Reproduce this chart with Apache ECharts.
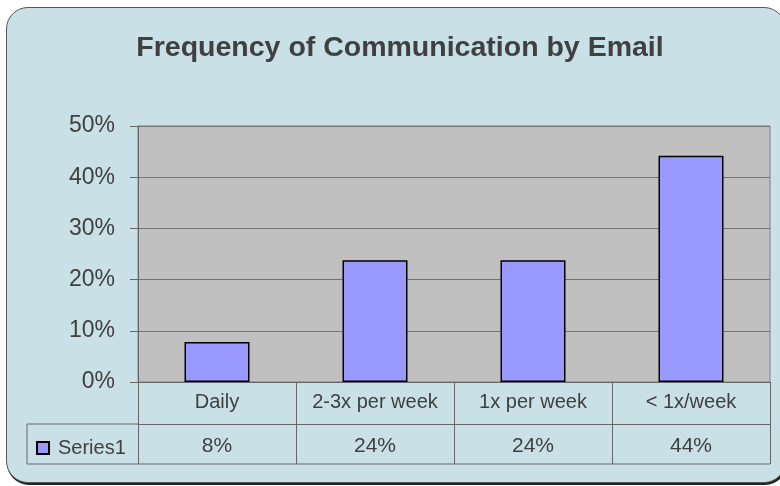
<!DOCTYPE html>
<html>
<head>
<meta charset="utf-8">
<script src="https://cdn.jsdelivr.net/npm/echarts@6/dist/echarts.min.js"></script>
<style>
  html, body { margin: 0; padding: 0; background: #fff; }
  #wrap { position: relative; width: 780px; height: 486px; overflow: hidden; }
  #panel {
    position: absolute; left: 6px; top: 7px; width: 778px; height: 474px;
    background: #C8E0E6; border: 1.5px solid #555; border-radius: 22px;
    box-shadow: 1px 2px 0 #222;
  }
  #chart { position: absolute; left: 0; top: 0; width: 780px; height: 486px; }
</style>
</head>
<body>
<div id="wrap">
  <div id="panel"></div>
  <div id="chart"></div>
</div>
<script>
// data
var categories = ['Daily', '2-3x per week', '1x per week', '< 1x/week'];
var values = [0.078, 0.238, 0.238, 0.442];
var seriesName = 'Series1';
var yTicks = [0, 0.1, 0.2, 0.3, 0.4, 0.5];

var pct = function (v) { return Math.round(v * 100) + '%'; };
var valueLabels = values.map(pct);

// layout (px)
var gl = 138, gr = 770, gt = 126, gb = 382;
var row1 = 424, row2 = 464, tableLeft = 27;
var lineColor = '#666';
var textColor = '#404040';
var font = '"Liberation Sans", Arial, sans-serif';

var chart = echarts.init(document.getElementById('chart'));

var option = {
  backgroundColor: 'transparent',
  animation: false,
  textStyle: { fontFamily: font },
  title: {
    text: 'Frequency of Communication by Email',
    left: 395,
    top: 29,
    textAlign: 'center',
    textStyle: { fontSize: 28.5, fontWeight: 'bold', color: textColor, fontFamily: font }
  },
  legend: {
    data: [seriesName],
    left: 31,
    top: 433,
    icon: 'rect',
    itemWidth: 12,
    itemHeight: 12,
    itemGap: 6,
    textStyle: { fontSize: 20, color: textColor, fontFamily: font, padding: [0, 0, 0, 4] }
  },
  grid: {
    left: gl,
    right: 780 - gr,
    top: gt,
    bottom: 486 - gb,
    show: true,
    backgroundColor: '#C0C0C0',
    borderColor: '#808080',
    borderWidth: 1
  },
  xAxis: [
    {
      type: 'category',
      data: categories,
      position: 'bottom',
      axisLine: { show: true, lineStyle: { color: lineColor, width: 1 } },
      axisTick: { show: true, length: row1 - gb, lineStyle: { color: lineColor } },
      axisLabel: { interval: 0, fontSize: 20, color: textColor, margin: 10, fontFamily: font }
    },
    {
      type: 'category',
      data: valueLabels,
      position: 'bottom',
      offset: row1 - gb,
      axisLine: { show: true, lineStyle: { color: lineColor, width: 1 } },
      axisTick: { show: true, length: row2 - row1, lineStyle: { color: lineColor } },
      axisLabel: { interval: 0, fontSize: 21, color: textColor, margin: 12, fontFamily: font }
    }
  ],
  yAxis: {
    type: 'value',
    min: yTicks[0],
    max: yTicks[yTicks.length - 1],
    interval: 0.1,
    axisLine: { show: true, lineStyle: { color: lineColor } },
    axisTick: { show: true, length: 8, lineStyle: { color: lineColor } },
    axisLabel: { formatter: pct, fontSize: 23, color: textColor, margin: 23, fontFamily: font },
    splitLine: { show: true, lineStyle: { color: '#737373', width: 1 } }
  },
  graphic: [
    {
      type: 'polyline',
      shape: { points: [[gl, row1], [tableLeft, row1], [tableLeft, row2], [gr, row2]] },
      style: { stroke: lineColor, lineWidth: 1, fill: null }
    }
  ],
  series: [
    {
      name: seriesName,
      type: 'bar',
      data: values,
      barWidth: 65,
      itemStyle: { color: '#9999FF', borderColor: '#000', borderWidth: 1.5 }
    }
  ]
};

chart.setOption(option);
</script>
</body>
</html>
